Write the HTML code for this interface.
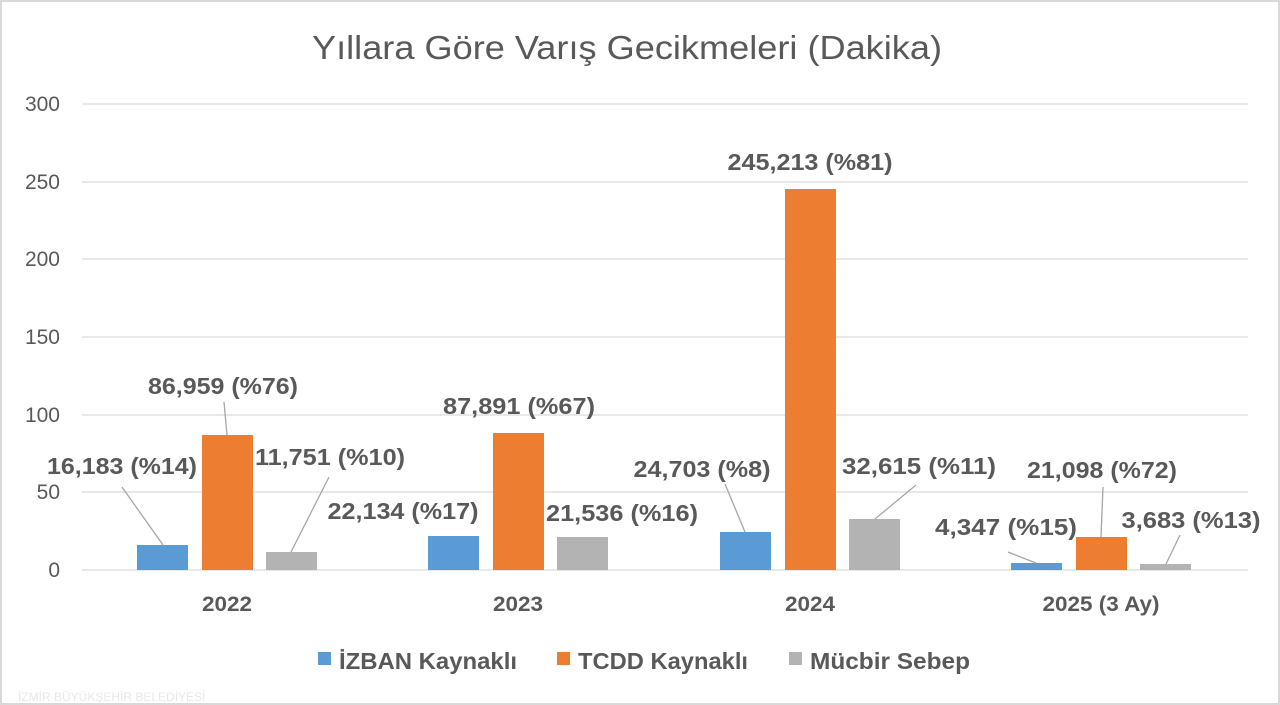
<!DOCTYPE html><html><head><meta charset="utf-8"><style>
html,body{margin:0;padding:0;background:#fff}
svg{display:block}
text{font-family:"Liberation Sans",sans-serif}
.lb{font-size:23px;font-weight:bold;fill:#595959}
.ax{font-size:21px;fill:#595959}
.ld{stroke:#a6a6a6;stroke-width:1.3;fill:none}
</style></head><body>
<svg width="1280" height="705" viewBox="0 0 1280 705">
<rect x="1" y="1" width="1278" height="703" fill="#fff" stroke="#d9d9d9" stroke-width="2"/>
<text x="627" y="59" text-anchor="middle" textLength="630" lengthAdjust="spacingAndGlyphs" style="font-size:33px;fill:#595959">Yıllara Göre Varış Gecikmeleri (Dakika)</text>
<g stroke="#d9d9d9" stroke-width="1.3">
<line x1="82" x2="1248" y1="104" y2="104"/><line x1="82" x2="1248" y1="182" y2="182"/>
<line x1="82" x2="1248" y1="259" y2="259"/><line x1="82" x2="1248" y1="337" y2="337"/>
<line x1="82" x2="1248" y1="415" y2="415"/><line x1="82" x2="1248" y1="492" y2="492"/>
<line x1="82" x2="1248" y1="570" y2="570"/></g>
<g class="ax" text-anchor="end">
<text x="60" y="111">300</text><text x="60" y="189">250</text><text x="60" y="266">200</text>
<text x="60" y="344">150</text><text x="60" y="422">100</text><text x="60" y="499">50</text><text x="60" y="577">0</text></g>
<g class="ax" text-anchor="middle" font-weight="bold">
<text x="227" y="611" textLength="50" lengthAdjust="spacingAndGlyphs">2022</text>
<text x="518" y="611" textLength="50" lengthAdjust="spacingAndGlyphs">2023</text>
<text x="810" y="611" textLength="50" lengthAdjust="spacingAndGlyphs">2024</text>
<text x="1101" y="611" textLength="117" lengthAdjust="spacingAndGlyphs">2025 (3 Ay)</text></g>
<rect x="137" y="545" width="51" height="25" fill="#5b9bd5"/>
<rect x="202" y="435" width="51" height="135" fill="#ed7d31"/>
<rect x="266" y="552" width="51" height="18" fill="#b3b3b3"/>
<rect x="428" y="536" width="51" height="34" fill="#5b9bd5"/>
<rect x="493" y="433" width="51" height="137" fill="#ed7d31"/>
<rect x="557" y="537" width="51" height="33" fill="#b3b3b3"/>
<rect x="720" y="532" width="51" height="38" fill="#5b9bd5"/>
<rect x="785" y="189" width="51" height="381" fill="#ed7d31"/>
<rect x="849" y="519" width="51" height="51" fill="#b3b3b3"/>
<rect x="1011" y="563" width="51" height="7" fill="#5b9bd5"/>
<rect x="1076" y="537" width="51" height="33" fill="#ed7d31"/>
<rect x="1140" y="564" width="51" height="6" fill="#b3b3b3"/>
<line class="ld" x1="122" y1="487" x2="163" y2="545"/>
<line class="ld" x1="224" y1="402" x2="227" y2="435"/>
<line class="ld" x1="329" y1="477" x2="291" y2="552"/>
<line class="ld" x1="725" y1="484" x2="745" y2="532"/>
<line class="ld" x1="916" y1="485" x2="875" y2="519"/>
<line class="ld" x1="1008" y1="552" x2="1036" y2="563"/>
<line class="ld" x1="1103" y1="487" x2="1101" y2="537"/>
<line class="ld" x1="1180" y1="535" x2="1166" y2="564"/>
<g class="lb" text-anchor="middle" lengthAdjust="spacingAndGlyphs">
<text x="122" y="474" textLength="150" lengthAdjust="spacingAndGlyphs">16,183 (%14)</text>
<text x="223" y="394" textLength="150" lengthAdjust="spacingAndGlyphs">86,959 (%76)</text>
<text x="330" y="465" textLength="150" lengthAdjust="spacingAndGlyphs">11,751 (%10)</text>
<text x="403" y="519" textLength="151" lengthAdjust="spacingAndGlyphs">22,134 (%17)</text>
<text x="519" y="414" textLength="152" lengthAdjust="spacingAndGlyphs">87,891 (%67)</text>
<text x="622" y="521" textLength="152" lengthAdjust="spacingAndGlyphs">21,536 (%16)</text>
<text x="702" y="477" textLength="137" lengthAdjust="spacingAndGlyphs">24,703 (%8)</text>
<text x="810" y="170" textLength="165" lengthAdjust="spacingAndGlyphs">245,213 (%81)</text>
<text x="919" y="474" textLength="154" lengthAdjust="spacingAndGlyphs">32,615 (%11)</text>
<text x="1006" y="535" textLength="142" lengthAdjust="spacingAndGlyphs">4,347 (%15)</text>
<text x="1102" y="478" textLength="150" lengthAdjust="spacingAndGlyphs">21,098 (%72)</text>
<text x="1191" y="528" textLength="139" lengthAdjust="spacingAndGlyphs">3,683 (%13)</text>
</g>
<rect x="318" y="652" width="13" height="13" fill="#5b9bd5"/>
<text x="339" y="669" class="lb" textLength="178" lengthAdjust="spacingAndGlyphs">İZBAN Kaynaklı</text>
<rect x="557" y="652" width="13" height="13" fill="#ed7d31"/>
<text x="578" y="669" class="lb" textLength="170" lengthAdjust="spacingAndGlyphs">TCDD Kaynaklı</text>
<rect x="789" y="652" width="13" height="13" fill="#b3b3b3"/>
<text x="810" y="669" class="lb" textLength="160" lengthAdjust="spacingAndGlyphs">Mücbir Sebep</text>
<text x="18" y="701" style="font-size:12px;fill:#e8e8e8">İZMİR BÜYÜKŞEHİR BELEDİYESİ</text>
</svg></body></html>
